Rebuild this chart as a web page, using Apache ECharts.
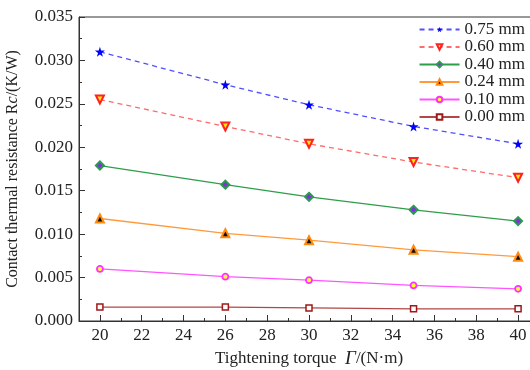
<!DOCTYPE html>
<html>
<head>
<meta charset="utf-8">
<script src="https://cdn.jsdelivr.net/npm/echarts@6/dist/echarts.min.js"></script>
<style>
  html, body { margin: 0; padding: 0; background: #fff; }
  #chart { width: 530px; height: 370px; }
</style>
</head>
<body>
<div id="chart"></div>
<script>
const torques = [20, 26, 30, 35, 40]
const xTickLabels = [20, 22, 24, 26, 28, 30, 32, 34, 36, 38, 40]
const gaps = ['0.75 mm', '0.60 mm', '0.40 mm', '0.24 mm', '0.10 mm', '0.00 mm']
const r075 = [0.0310, 0.0272, 0.0249, 0.0224, 0.0204]
const r060 = [0.0255, 0.0224, 0.0204, 0.0183, 0.0165]
const r040 = [0.0179, 0.0157, 0.0143, 0.0128, 0.0115]
const r024 = [0.0118, 0.0101, 0.0093, 0.0082, 0.0074]
const r010 = [0.0060, 0.0051, 0.0047, 0.0041, 0.0037]
const r000 = [0.0016, 0.0016, 0.0015, 0.0014, 0.0014]

const font = '"Liberation Serif", "DejaVu Serif", serif'
const star = 'path://M50,0 L61,35 L98,35 L68,57 L79,91 L50,70 L21,91 L32,57 L2,35 L39,35 Z'

const pares = (vals) => torques.map((t, i) => [t, vals[i]])

const serie = (nome, vals, cfg) => ({
    name: nome,
    type: 'line',
    xAxisIndex: 1,
    data: pares(vals),
    symbol: cfg.symbol,
    symbolSize: cfg.size,
    symbolRotate: cfg.rotate || 0,
    showAllSymbol: true,
    lineStyle: { color: cfg.line, width: 1.3, type: cfg.dash ? [5, 4] : 'solid' },
    itemStyle: { color: cfg.fill, borderColor: cfg.border, borderWidth: cfg.bw },
    emphasis: { disabled: true }
})

const chart = echarts.init(document.getElementById('chart'))

const option = {
    animation: false,
    textStyle: { fontFamily: font },
    grid: {
        left: 79, right: -9, top: 17, bottom: 49,
        outerBoundsMode: 'none',
        containLabel: false,
        show: true, borderColor: '#333', borderWidth: 1, backgroundColor: 'transparent'
    },
    legend: {
        orient: 'vertical',
        right: 5,
        top: 21,
        padding: 0,
        itemWidth: 40,
        itemHeight: 7,
        itemGap: 0.5,
        textStyle: { fontFamily: font, fontSize: 17, color: '#222', lineHeight: 17 },
        data: gaps
    },
    xAxis: [{
        type: 'value',
        min: 19, max: 41, interval: 1,
        position: 'bottom',
        axisLine: { lineStyle: { color: '#333' } },
        axisTick: { inside: true, length: 3, lineStyle: { color: '#333' } },
        axisLabel: { show: false },
        splitLine: { show: false }
    }, {
        type: 'value',
        min: 19, max: 41,
        position: 'bottom',
        name: '{n|Tightening torque  }{i|Γ}{n|/(N·m)}',
        nameLocation: 'middle',
        nameGap: 28,
        nameTextStyle: {
            rich: {
                n: { fontFamily: font, fontSize: 17, color: '#222' },
                i: { fontFamily: font, fontSize: 19, fontStyle: 'italic', color: '#222' }
            }
        },
        axisLine: { show: false },
        axisTick: { inside: true, length: 6, customValues: xTickLabels, lineStyle: { color: '#333' } },
        axisLabel: { customValues: xTickLabels, fontFamily: font, fontSize: 17, color: '#222', margin: 6 },
        splitLine: { show: false }
    }],
    yAxis: {
        type: 'value',
        min: 0, max: 0.035, interval: 0.005,
        name: '{n|Contact thermal resistance R}{i|c}{n|/(K/W)}',
        nameLocation: 'middle',
        nameGap: 58,
        nameTextStyle: {
            rich: {
                n: { fontFamily: font, fontSize: 16, color: '#222' },
                i: { fontFamily: font, fontSize: 16, fontStyle: 'italic', color: '#222' }
            }
        },
        axisLine: { show: true, lineStyle: { color: '#333' } },
        axisTick: { inside: true, length: 6, lineStyle: { color: '#333' } },
        minorTick: { show: true, splitNumber: 2, length: 3, lineStyle: { color: '#333' } },
        axisLabel: {
            formatter: v => v.toFixed(3),
            fontFamily: font, fontSize: 17, color: '#222', margin: 6
        },
        splitLine: { show: false }
    },
    series: [
        serie(gaps[0], r075, { symbol: star, size: 10, line: '#5050ff', dash: true, fill: '#0000ff', border: '#0000ff', bw: 0 }),
        serie(gaps[1], r060, { symbol: 'triangle', rotate: 180, size: 8, line: '#ff6a6a', dash: true, fill: '#ffee00', border: '#ff2020', bw: 2 }),
        serie(gaps[2], r040, { symbol: 'diamond', size: 8, line: '#2e9e4a', fill: '#8a2be2', border: '#2a9a50', bw: 2 }),
        serie(gaps[3], r024, { symbol: 'triangle', size: 8, line: '#ff9a3c', fill: '#111', border: '#ff8a10', bw: 2 }),
        serie(gaps[4], r010, { symbol: 'circle', size: 6, line: '#ff55ff', fill: '#ffff30', border: '#ff30ff', bw: 1.8 }),
        serie(gaps[5], r000, { symbol: 'rect', size: 6, line: '#b04848', fill: '#fff', border: '#a01818', bw: 1.5 })
    ]
}

chart.setOption(option)
</script>
</body>
</html>
